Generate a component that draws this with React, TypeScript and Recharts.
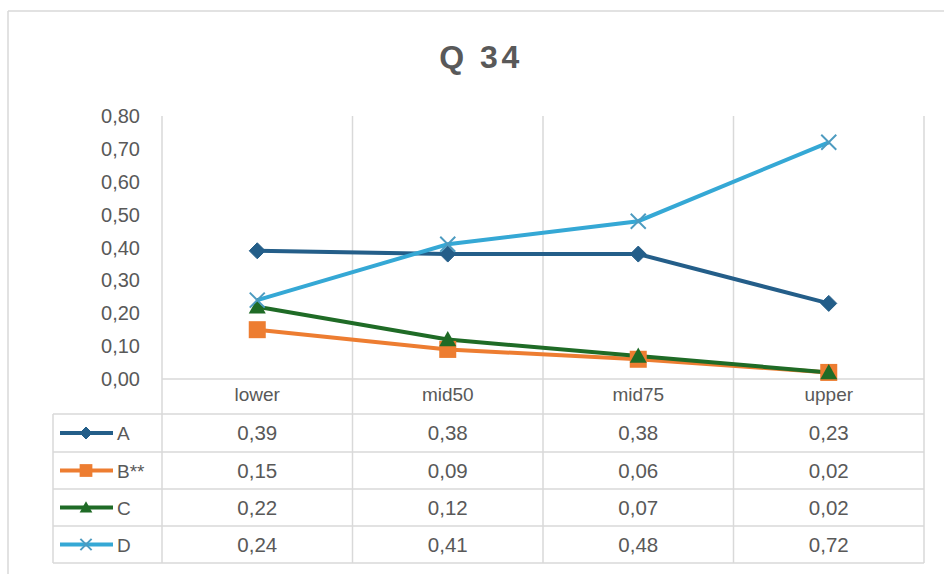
import React from 'react';
import { LineChart, Line, XAxis, YAxis, CartesianGrid } from 'recharts';

const title = 'Q 34';
const categories = ['lower', 'mid50', 'mid75', 'upper'];
const seriesNames = ['A', 'B**', 'C', 'D'];
const valuesA = [0.39, 0.38, 0.38, 0.23];
const valuesB = [0.15, 0.09, 0.06, 0.02];
const valuesC = [0.22, 0.12, 0.07, 0.02];
const valuesD = [0.24, 0.41, 0.48, 0.72];
const yTicks = [0, 0.1, 0.2, 0.3, 0.4, 0.5, 0.6, 0.7, 0.8];

const W = 944;
const H = 574;
const PLOT_LEFT = 162;
const PLOT_RIGHT = 924;
const PLOT_TOP = 116;
const PLOT_BOTTOM = 379;
const TABLE_LEFT = 53;
const ROW_LINES = [379, 414, 452, 489, 526, 563];
const FONT = '"Liberation Sans", Arial, sans-serif';
const TEXT = '#595959';
const GRID = '#D9D9D9';

const series = [
  { key: 'A', name: seriesNames[0], values: valuesA, color: '#245E89', marker: 'diamond' },
  { key: 'B', name: seriesNames[1], values: valuesB, color: '#ED7D31', marker: 'square' },
  { key: 'C', name: seriesNames[2], values: valuesC, color: '#1F6B26', marker: 'triangle' },
  { key: 'D', name: seriesNames[3], values: valuesD, color: '#35A8D5', marker: 'x' },
];

const data = categories.map((c, i) => ({
  cat: c,
  A: valuesA[i],
  B: valuesB[i],
  C: valuesC[i],
  D: valuesD[i],
}));

const fmt = (v: number) => v.toFixed(2).replace('.', ',');

function Marker({ type, cx, cy, color, s = 1 }: any) {
  if (cx == null || cy == null) return null;
  if (type === 'diamond') {
    const r = 8 * s;
    return <polygon points={`${cx},${cy - r} ${cx + r},${cy} ${cx},${cy + r} ${cx - r},${cy}`} fill={color} stroke={color} strokeWidth={1} />;
  }
  if (type === 'square') {
    const r = 8.5 * s;
    return <rect x={cx - r} y={cy - r} width={2 * r} height={2 * r} fill={color} />;
  }
  if (type === 'triangle') {
    const r = 8.5 * s;
    return <polygon points={`${cx},${cy - r} ${cx + r},${cy + r * 0.8} ${cx - r},${cy + r * 0.8}`} fill={color} />;
  }
  const r = 7.5 * s;
  return (
    <g stroke="#4C9BC0" strokeWidth={2}>
      <line x1={cx - r} y1={cy - r} x2={cx + r} y2={cy + r} />
      <line x1={cx - r} y1={cy + r} x2={cx + r} y2={cy - r} />
    </g>
  );
}

export default function App() {
  const colW = (PLOT_RIGHT - PLOT_LEFT) / categories.length;
  const rowCenters = ROW_LINES.slice(0, -1).map((y, i) => (y + ROW_LINES[i + 1]) / 2);
  return (
    <div style={{ position: 'absolute', left: 0, top: 0, width: W, height: H, background: '#fff', fontFamily: FONT }}>
      <LineChart
        width={W}
        height={H}
        data={data}
        margin={{ top: PLOT_TOP, right: W - PLOT_RIGHT, bottom: H - PLOT_BOTTOM - 35, left: PLOT_LEFT - 100 }}
      >
        <CartesianGrid
          horizontal={false}
          stroke={GRID}
          strokeWidth={1.5}
          verticalCoordinatesGenerator={({ offset }: any) =>
            categories.concat(['']).map((_, i) => offset.left + (i * offset.width) / categories.length)
          }
        />
        <XAxis
          dataKey="cat"
          scale="band"
          height={35}
          axisLine={{ stroke: GRID, strokeWidth: 1.5 }}
          tickLine={false}
          tickSize={0}
          tickMargin={9}
          tick={{ fill: TEXT, fontSize: 19, fontFamily: FONT }}
        />
        <YAxis
          width={100}
          domain={[0, 0.8]}
          ticks={yTicks}
          axisLine={false}
          tickLine={false}
          tickSize={0}
          tickMargin={22}
          tickFormatter={fmt}
          tick={{ fill: TEXT, fontSize: 20, fontFamily: FONT }}
        />
        {series.map((s) => (
          <Line
            key={s.key}
            dataKey={s.key}
            name={s.name}
            stroke={s.color}
            strokeWidth={4}
            isAnimationActive={false}
            dot={(p: any) => <Marker key={`${s.key}-${p.index}`} type={s.marker} cx={p.cx} cy={p.cy} color={s.color} />}
            activeDot={false}
          />
        ))}
      </LineChart>
      <svg width={W} height={H} style={{ position: 'absolute', left: 0, top: 0, pointerEvents: 'none' }}>
        <line x1={8} y1={11} x2={W} y2={11} stroke={GRID} strokeWidth={1.5} />
        <line x1={8} y1={11} x2={8} y2={H} stroke={GRID} strokeWidth={1.5} />
        <text x={481} y={68} textAnchor="middle" fill={TEXT} fontSize={32} fontWeight="bold" letterSpacing={3.5} fontFamily={FONT}>
          {title}
        </text>
        {categories.concat(['']).map((_, i) => (
          <line key={`v${i}`} x1={PLOT_LEFT + i * colW} y1={ROW_LINES[0]} x2={PLOT_LEFT + i * colW} y2={ROW_LINES[ROW_LINES.length - 1]} stroke={GRID} strokeWidth={1.5} />
        ))}
        <line x1={TABLE_LEFT} y1={ROW_LINES[1]} x2={TABLE_LEFT} y2={ROW_LINES[ROW_LINES.length - 1]} stroke={GRID} strokeWidth={1.5} />
        {ROW_LINES.slice(1).map((y, i) => (
          <line key={`h${i}`} x1={TABLE_LEFT} y1={y} x2={PLOT_RIGHT} y2={y} stroke={GRID} strokeWidth={1.5} />
        ))}
        {series.map((s, r) => {
          const cy = rowCenters[r + 1];
          return (
            <g key={s.key}>
              <line x1={60} y1={cy} x2={113} y2={cy} stroke={s.color} strokeWidth={4} />
              <Marker type={s.marker} cx={86} cy={cy} color={s.color} s={0.75} />
              <text x={117} y={cy + 7} fill={TEXT} fontSize={19} fontFamily={FONT}>
                {s.name}
              </text>
              {s.values.map((v, i) => (
                <text key={i} x={PLOT_LEFT + (i + 0.5) * colW} y={cy + 7} textAnchor="middle" fill={TEXT} fontSize={20.5} fontFamily={FONT}>
                  {fmt(v)}
                </text>
              ))}
            </g>
          );
        })}
      </svg>
    </div>
  );
}
